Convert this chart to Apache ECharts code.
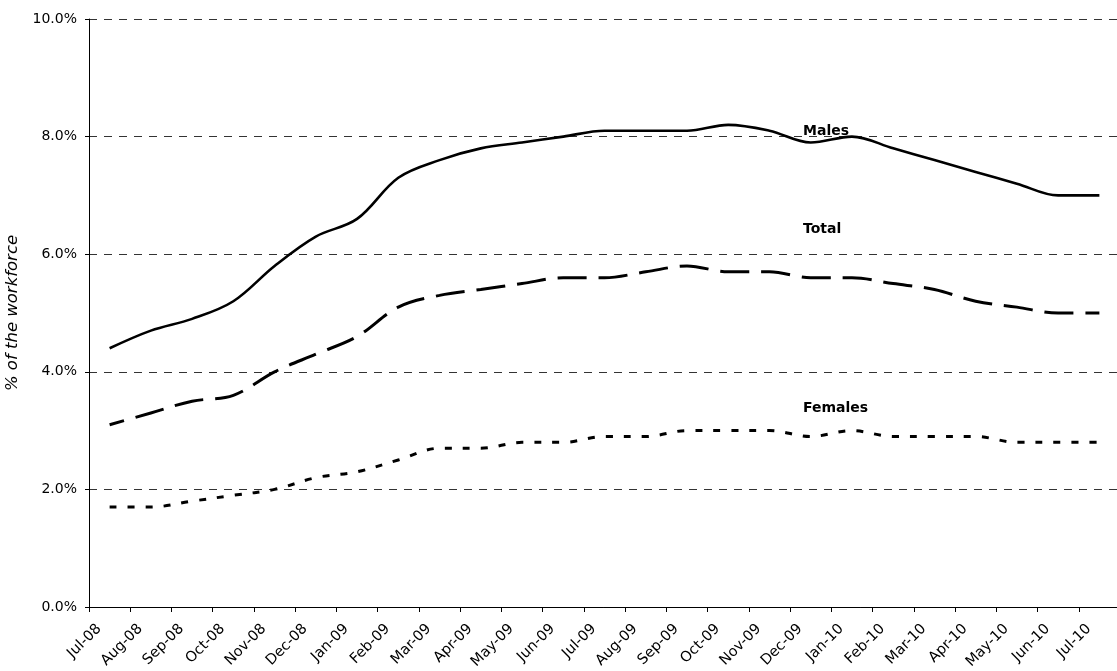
<!DOCTYPE html>
<html>
<head>
<meta charset="utf-8">
<script src="https://cdn.jsdelivr.net/npm/echarts@6/dist/echarts.min.js"></script>
<style>
  html, body { margin: 0; padding: 0; background: #ffffff; }
  #chart { width: 1117px; height: 671px; }
</style>
</head>
<body>
<div id="chart"></div>
<script>
// Monthly categories
const months = ['Jul-08','Aug-08','Sep-08','Oct-08','Nov-08','Dec-08','Jan-09','Feb-09','Mar-09',
  'Apr-09','May-09','Jun-09','Jul-09','Aug-09','Sep-09','Oct-09','Nov-09','Dec-09','Jan-10',
  'Feb-10','Mar-10','Apr-10','May-10','Jun-10','Jul-10'];

// Unemployment, % of the workforce
const males   = [4.4, 4.7, 4.9, 5.2, 5.8, 6.3, 6.6, 7.3, 7.6, 7.8, 7.9, 8.0, 8.1, 8.1, 8.1, 8.2, 8.1, 7.9, 8.0, 7.8, 7.6, 7.4, 7.2, 7.0, 7.0];
const total   = [3.1, 3.3, 3.5, 3.6, 4.0, 4.3, 4.6, 5.1, 5.3, 5.4, 5.5, 5.6, 5.6, 5.7, 5.8, 5.7, 5.7, 5.6, 5.6, 5.5, 5.4, 5.2, 5.1, 5.0, 5.0];
const females = [1.7, 1.7, 1.8, 1.9, 2.0, 2.2, 2.3, 2.5, 2.7, 2.7, 2.8, 2.8, 2.9, 2.9, 3.0, 3.0, 3.0, 2.9, 3.0, 2.9, 2.9, 2.9, 2.8, 2.8, 2.8];

const seriesNames = ['Males', 'Total', 'Females'];
const yAxisTitle = '% of the workforce';

const FONT = 'DejaVu Sans';
const chart = echarts.init(document.getElementById('chart'), null, { renderer: 'canvas' });

function lineSeries(name, data, width, dash, dashOffset) {
  return {
    name: name,
    type: 'line',
    data: data,
    smooth: 0.35,
    symbol: 'none',
    lineStyle: { color: '#000000', width: width, type: dash, dashOffset: dashOffset || 0, cap: 'butt' },
    emphasis: { disabled: true },
    z: 3
  };
}

// In-chart series labels
function seriesText(text, left, cy) {
  return {
    type: 'text',
    x: left,
    y: cy,
    style: {
      text: text,
      font: 'bold 14px "' + FONT + '"',
      fill: '#000000',
      textVerticalAlign: 'middle',
      textAlign: 'left'
    },
    z: 10
  };
}

const option = {
  backgroundColor: '#ffffff',
  animation: false,
  grid: { left: 89, top: 19, width: 1031, height: 588, containLabel: false, outerBoundsMode: 'none' },
  xAxis: {
    type: 'category',
    data: months,
    boundaryGap: true,
    axisLine: { show: true, lineStyle: { color: '#000000', width: 1 } },
    axisTick: { show: true, length: 5, lineStyle: { color: '#000000' } },
    axisLabel: {
      rotate: 45,
      interval: 0,
      margin: 9,
      fontFamily: FONT,
      fontSize: 14.5,
      color: '#000000',
      padding: [0, 15, 0, 0]
    },
    splitLine: { show: false }
  },
  yAxis: {
    type: 'value',
    min: 0,
    max: 10,
    interval: 2,
    name: yAxisTitle,
    nameLocation: 'middle',
    nameGap: 60,
    nameRotate: 90,
    nameTextStyle: { fontFamily: FONT, fontStyle: 'italic', fontSize: 16.5, color: '#000000' },
    axisLine: { show: true, lineStyle: { color: '#000000', width: 1 } },
    axisTick: { show: true, length: 4, lineStyle: { color: '#000000' } },
    axisLabel: {
      margin: 12,
      fontFamily: FONT,
      fontSize: 14,
      color: '#000000',
      formatter: v => v.toFixed(1) + '%'
    },
    splitLine: { show: true, lineStyle: { color: '#333333', width: 1, type: [8, 7] } }
  },
  series: [
    lineSeries(seriesNames[0], males, 2.6, 'solid'),
    lineSeries(seriesNames[1], total, 3, [29, 12], 14),
    lineSeries(seriesNames[2], females, 3, [7, 11], 0)
  ],
  graphic: [
    seriesText(seriesNames[0], 803, 131),
    seriesText(seriesNames[1], 803, 229.5),
    seriesText(seriesNames[2], 803, 408)
  ]
};

chart.setOption(option);
</script>
</body>
</html>
